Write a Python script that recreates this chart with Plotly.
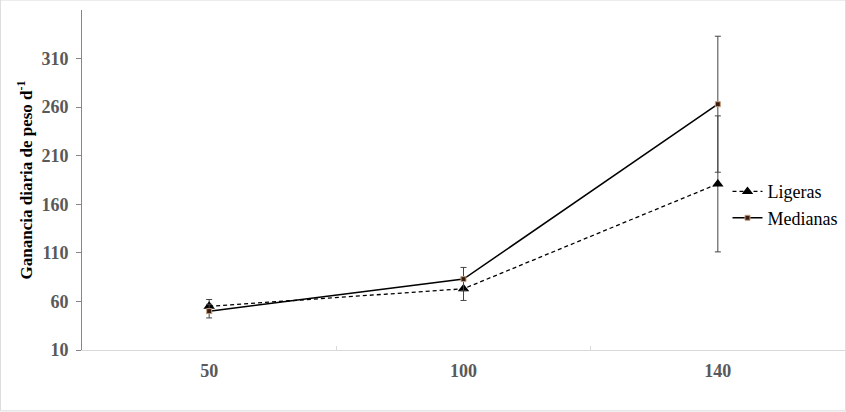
import plotly.graph_objects as go

categories = ["50", "100", "140"]
ligeras = [55, 73, 181]
ligeras_err = [7, 12, 70]
medianas = [50, 83, 263]
medianas_err = [7, 12, 70]
y_ticks = [10, 60, 110, 160, 210, 260, 310]

fig = go.Figure()
fig.add_trace(go.Scatter(
    x=categories, y=ligeras, name="Ligeras", mode="lines+markers",
    line=dict(color="black", width=1.3, dash="4px,3px"),
    marker=dict(symbol="triangle-up", size=10, color="black"),
    error_y=dict(type="data", array=ligeras_err, color="#444444", thickness=1, width=3),
))
fig.add_trace(go.Scatter(
    x=categories, y=medianas, name="Medianas", mode="lines+markers",
    line=dict(color="black", width=1.5),
    marker=dict(symbol="square", size=5, color="#3a1c10", line=dict(color="#c8a080", width=1)),
    error_y=dict(type="data", array=medianas_err, color="#444444", thickness=1, width=3),
))

fig.add_shape(type="rect", xref="paper", yref="paper",
              x0=-0.107, x1=1.0008, y0=-0.179, y1=1.0294,
              line=dict(color="#d9d9d9", width=1), layer="below")

fig.update_layout(
    width=846, height=412,
    margin=dict(l=82, r=1, t=10, b=62),
    paper_bgcolor="white", plot_bgcolor="white",
    font=dict(family="Liberation Serif", color="black"),
    showlegend=True,
    legend=dict(x=0.846, y=0.52, xanchor="left", yanchor="top",
                bgcolor="rgba(0,0,0,0)", font=dict(size=18, family="Liberation Serif", color="black"),
                tracegroupgap=0, itemwidth=30),
    xaxis=dict(
        type="category", range=[-0.5, 2.5],
        showline=True, linecolor="#d9d9d9", linewidth=1,
        ticks="inside", tickson="boundaries", ticklen=4, tickcolor="#d9d9d9",
        showgrid=False, zeroline=False, ticklabelstandoff=4,
        tickfont=dict(family="Liberation Serif", size=18, color="#595959", weight="bold"),
    ),
    yaxis=dict(
        range=[10, 360], tickvals=y_ticks,
        showline=True, linecolor="#868686", linewidth=1,
        ticks="outside", ticklen=5, tickcolor="#868686",
        showgrid=False, zeroline=False, ticklabelstandoff=4,
        tickfont=dict(family="Liberation Serif", size=18, color="#595959", weight="bold"),
        title=dict(text="Ganancia diaria de peso d<sup>-1</sup>",
                   font=dict(family="Liberation Serif", size=17, color="black", weight="bold"),
                   standoff=4),
    ),
)

fig.write_html("out.html", config={"displayModeBar": False},
               post_script="document.body.style.margin='0';document.body.style.overflow='hidden';")
